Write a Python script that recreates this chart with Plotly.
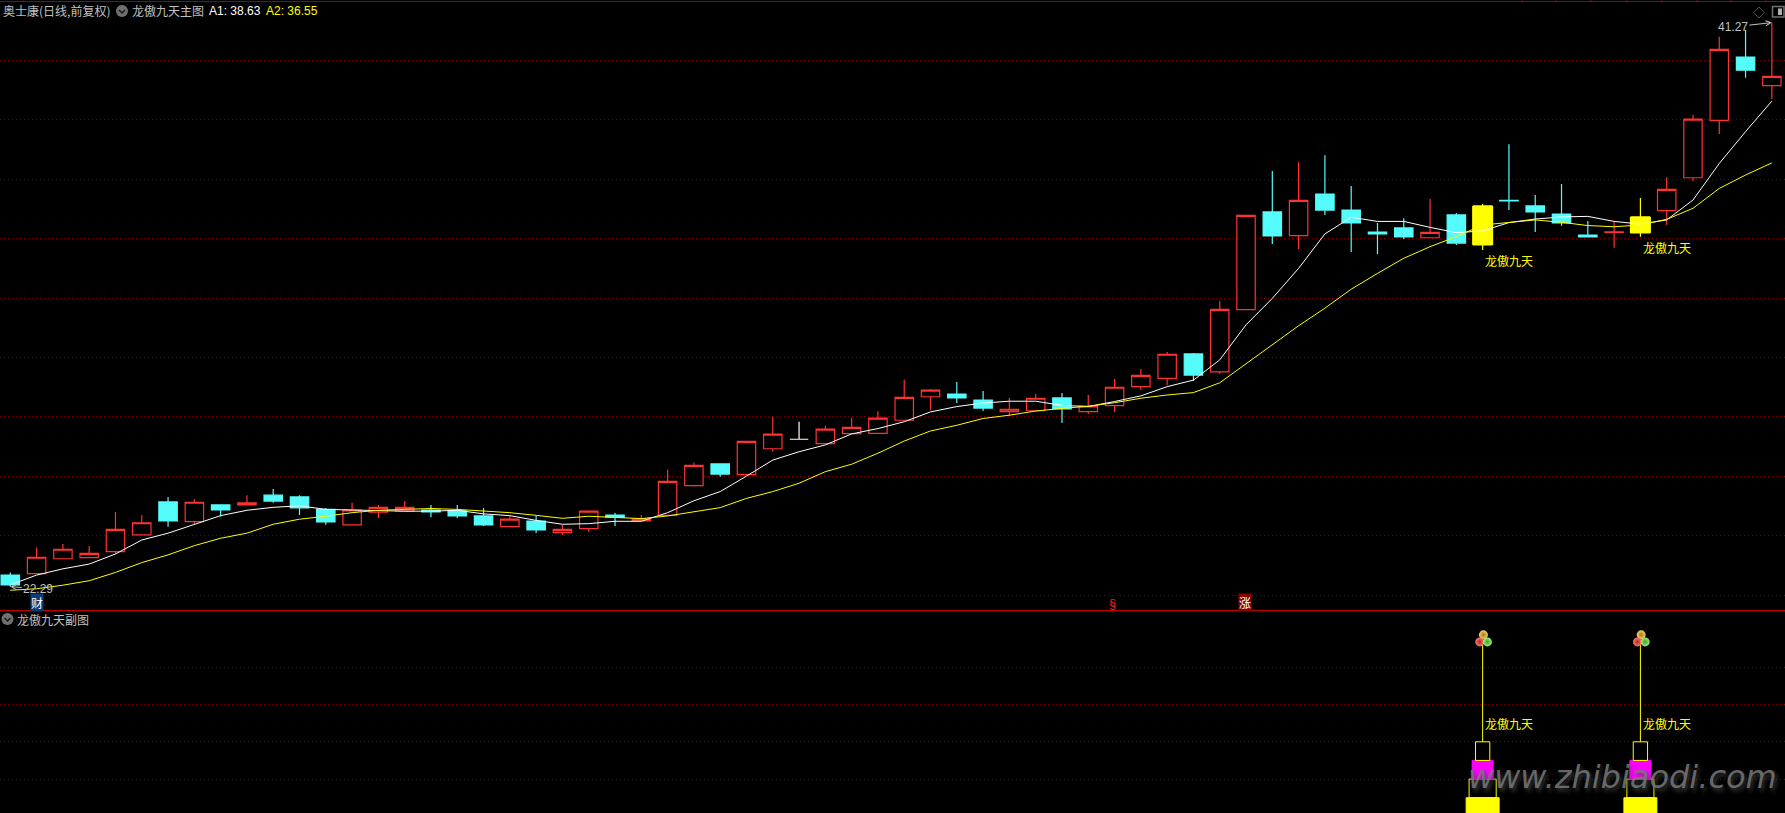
import plotly.graph_objects as go

W, H = 1785, 813
days = list(range(68))
opens = [22.68,22.73,23.23,23.27,23.47,24.03,25.14,24.48,25.04,25.04,25.37,25.31,24.89,24.37,24.80,24.83,24.87,24.84,24.67,24.31,24.50,24.11,24.24,24.70,24.50,24.69,25.69,26.42,26.06,26.93,27.25,27.10,27.44,27.45,27.89,28.68,28.77,28.57,28.18,28.21,28.64,28.18,28.38,29.02,29.30,30.12,29.52,31.61,34.90,34.10,35.50,34.96,34.22,34.36,34.03,34.80,33.79,35.29,35.10,34.83,34.12,34.21,34.19,34.94,36.05,37.98,40.11,39.15]
closes = [22.35,23.28,23.55,23.41,24.22,24.44,24.50,25.13,24.87,25.11,25.17,24.94,24.47,24.87,24.96,24.96,24.81,24.67,24.37,24.56,24.20,24.22,24.83,24.63,24.57,25.83,26.37,26.08,27.18,27.42,27.25,27.59,27.65,27.96,28.66,28.90,28.64,28.30,28.26,28.63,28.27,28.37,29.00,29.40,30.11,29.41,31.62,34.78,34.09,35.29,34.96,34.53,34.16,34.06,34.21,33.85,35.10,35.27,34.90,34.53,34.06,34.23,34.73,35.66,38.02,40.37,39.67,39.46]
highs = [22.77,23.61,23.73,23.66,24.80,24.69,25.31,25.23,25.06,25.37,25.58,25.37,24.94,25.11,25.04,25.17,25.04,25.04,24.94,24.67,24.67,24.37,24.83,24.77,24.70,26.22,26.47,26.42,27.18,28.00,27.84,27.70,27.97,28.19,29.24,28.94,29.18,28.87,28.64,28.77,28.81,28.74,29.28,29.61,30.19,30.15,31.90,34.78,36.28,36.58,36.81,35.77,34.53,34.69,35.33,34.86,35.17,37.18,35.47,35.84,34.59,34.56,35.37,36.07,38.16,40.79,41.02,41.27]
lows = [22.29,22.73,23.23,23.27,23.39,24.03,24.31,24.40,24.65,25.04,25.11,24.70,24.37,24.37,24.60,24.83,24.63,24.60,24.33,24.31,24.10,24.03,24.13,24.33,24.50,24.67,25.66,25.99,26.06,26.83,27.25,27.10,27.44,27.45,27.89,28.23,28.47,28.20,28.03,28.21,27.80,28.10,28.17,28.91,29.07,29.21,29.45,31.61,33.82,33.65,34.80,33.55,33.48,33.99,34.03,33.79,33.62,34.96,34.22,34.43,34.06,33.69,34.06,34.46,35.94,37.52,39.41,38.70]
a1 = [22.35,22.68,22.89,23.05,23.39,23.86,24.09,24.39,24.68,24.86,24.96,25.01,24.89,24.87,24.84,24.83,24.83,24.86,24.74,24.68,24.52,24.39,24.41,24.49,24.49,24.78,25.18,25.49,26.01,26.55,26.83,27.06,27.43,27.61,27.84,28.17,28.35,28.47,28.53,28.53,28.39,28.35,28.52,28.71,29.02,29.24,29.92,31.10,31.99,33.00,34.16,34.72,34.58,34.58,34.38,34.20,34.26,34.54,34.66,34.73,34.75,34.58,34.49,34.63,35.30,36.53,37.60,38.63]
a2 = [22.17,22.22,22.34,22.49,22.77,23.10,23.36,23.67,23.92,24.09,24.39,24.56,24.66,24.78,24.86,24.89,24.92,24.89,24.83,24.78,24.69,24.59,24.66,24.62,24.58,24.67,24.81,24.95,25.26,25.49,25.77,26.16,26.41,26.78,27.19,27.53,27.72,27.95,28.06,28.20,28.29,28.36,28.48,28.63,28.74,28.82,29.15,29.80,30.42,31.07,31.66,32.30,32.83,33.34,33.73,34.07,34.46,34.55,34.63,34.55,34.44,34.40,34.46,34.65,35.02,35.69,36.14,36.55]
white_days = [30]
signal_days = [56, 62]
price_grid = [22,24,26,28,30,32,34,36,38,40]
sub_grid = [1,2,3,4]
price_range = [21.495, 42.03]
sub_range = [0.09, 5.51]
x_range = [-0.392, 67.5]
stem_top = 4.6
ball_y = [4.87, 4.68, 4.68]
ball_offset = [0.03, -0.11, 0.18]
ball_colors = [("#f0d070", "#b07a10"), ("#f08070", "#c02020"), ("#a0f080", "#40a020")]
label = "龙傲九天"

RED, CYAN, YEL, MAG, GREY = "#ff3232", "#54fcfc", "#ffff00", "#ff00ff", "#c0c0c0"
CJK = "Noto Sans CJK SC"
LAT = "Liberation Sans"

def px(x): return x / W
def py(y): return 1 - y / H

fig = go.Figure()

def candles(idx, up, down, fill_up=None):
    fig.add_trace(go.Candlestick(
        x=[days[i] for i in idx], open=[opens[i] for i in idx], high=[highs[i] for i in idx],
        low=[lows[i] for i in idx], close=[closes[i] for i in idx],
        increasing=dict(line=dict(color=up, width=1.2), fillcolor=fill_up or up),
        decreasing=dict(line=dict(color=down, width=1.2), fillcolor=down),
        whiskerwidth=0, showlegend=False, hoverinfo="skip"))

normal = [i for i in days if i not in white_days and i not in signal_days]
candles(normal, RED, CYAN, "#000000")
candles(white_days, "#ffffff", "#ffffff", "#ffffff")
candles(signal_days, YEL, YEL, YEL)

# wide signal bodies in the price panel
fig.add_trace(go.Bar(x=signal_days,
    y=[abs(opens[i]-closes[i]) for i in signal_days],
    base=[min(opens[i], closes[i]) for i in signal_days],
    width=0.8, marker=dict(color=YEL, line=dict(width=0)), showlegend=False, hoverinfo="skip"))

fig.add_trace(go.Scatter(x=days, y=a1, mode="lines", line=dict(color="#ffffff", width=1), showlegend=False, hoverinfo="skip"))
fig.add_trace(go.Scatter(x=days, y=a2, mode="lines", line=dict(color=YEL, width=1), showlegend=False, hoverinfo="skip"))

# sub panel stacks
stack = [  # base, height, width, fill, line
    (0.0, 0.5, 1.255, YEL, YEL),
    (0.5, 0.5, 1.03, "rgba(0,0,0,0)", YEL),
    (1.0, 0.5, 0.80, MAG, MAG),
    (1.5, 0.5, 0.544, "rgba(0,0,0,0)", YEL),
]
for b, h, w, fill, line_c in stack:
    fig.add_trace(go.Bar(x=signal_days, y=[h]*2, base=[b]*2, width=w, yaxis="y2",
        marker=dict(color=fill, line=dict(color=line_c, width=1)), showlegend=False, hoverinfo="skip"))
sx, sy = [], []
for d in signal_days:
    sx += [d, d, None]
    sy += [2, stem_top, None]
fig.add_trace(go.Scatter(x=sx, y=sy, mode="lines", yaxis="y2", line=dict(color=YEL, width=1), showlegend=False, hoverinfo="skip"))
for o, by, (c0, c1) in zip(ball_offset, ball_y, ball_colors):
    fig.add_trace(go.Scatter(x=[d + o for d in signal_days], y=[by]*2, mode="markers", yaxis="y2",
        marker=dict(size=9, color=c0, gradient=dict(type="radial", color=c1), line=dict(width=0)),
        showlegend=False, hoverinfo="skip"))

anns = []
def text(x, y, s, color=GREY, size=12, font=CJK, anchor="left", **kw):
    anns.append(dict(x=px(x), y=py(y), xref="paper", yref="paper", text=s, showarrow=False,
                     xanchor=anchor, yanchor="middle", font=dict(color=color, size=size, family=font), **kw))

text(1, 10.5, "奥士康(日线,前复权)")
text(130, 10.5, "龙傲九天主图")
text(207, 10.5, "A1: 38.63", color="#ffffff", font=LAT)
text(264, 10.5, "A2: 36.55", color=YEL, font=LAT)
text(15, 619, "龙傲九天副图")
text(1483, 260, label, color=YEL)
text(1641, 248, label, color=YEL)
text(1483, 723.7, label, color=YEL)
text(1641, 723.7, label, color=YEL)
text(36.5, 602.5, "财", color="#ffffff", anchor="center", bgcolor="#0a3c78", borderpad=0)
text(1244.5, 602.5, "涨", color="#ffffff", anchor="center", bgcolor="#8c0000", borderpad=0)
text(1112.7, 603.5, "§", color="#ff2020", size=13, font=LAT, anchor="center")

anns.append(dict(x=67, y=41.27, xref="x", yref="y", text="41.27", ax=-39, ay=4.4, axref="pixel", ayref="pixel",
                 showarrow=True, arrowhead=5, arrowsize=1, arrowwidth=1, arrowcolor=GREY,
                 font=dict(color=GREY, size=12, family=LAT)))
anns.append(dict(x=0, y=22.29, xref="x", yref="y", text="22.29", ax=28, ay=2, axref="pixel", ayref="pixel",
                 showarrow=True, arrowhead=5, arrowsize=1, arrowwidth=1, arrowcolor=GREY,
                 font=dict(color=GREY, size=12, family=LAT)))
anns.append(dict(x=px(1622), y=py(777), xref="paper", yref="paper", text="www.zhibiaodi.com", showarrow=False,
                 xanchor="center", yanchor="middle",
                 font=dict(color="rgba(120,120,120,0.85)", size=32, family="DejaVu Sans", style="italic",
                           shadow="2px 3px 4px #444444")))

shapes = []
def line(x0, y0, x1, y1, c, w=1):
    shapes.append(dict(type="line", xref="paper", yref="paper", x0=px(x0), y0=py(y0), x1=px(x1), y1=py(y1),
                       line=dict(color=c, width=w), layer="above"))
line(0, 610.5, W, 610.5, "#c00000")
line(0, 1.5, W, 1.5, "#a00000")
for tx in [23, 1522, 1556, 1591, 1627, 1662, 1697, 1731, 1766]:
    line(tx, 0, tx, 1, "#a00000")
for cx, cy in [(122, 11), (7.5, 619)]:
    shapes.append(dict(type="circle", xref="paper", yref="paper", x0=px(cx-6), x1=px(cx+6), y0=py(cy+6), y1=py(cy-6),
                       fillcolor="#707070", line=dict(width=0), layer="above"))
    shapes.append(dict(type="path", xref="paper", yref="paper", layer="above",
                       path=f"M {px(cx-3)} {py(cy-1)} L {px(cx)} {py(cy+2)} L {px(cx+3)} {py(cy-1)}",
                       line=dict(color="#1a1a1a", width=1.5)))
shapes.append(dict(type="path", xref="paper", yref="paper", layer="above",
                   path=f"M {px(1759)} {py(7)} L {px(1764.5)} {py(12.5)} L {px(1759)} {py(18)} L {px(1753.5)} {py(12.5)} Z",
                   line=dict(color="#505050", width=1)))
shapes.append(dict(type="rect", xref="paper", yref="paper", layer="above", x0=px(1772.5), x1=px(1784), y0=py(17), y1=py(6.5),
                   line=dict(color="#707070", width=1.5)))
shapes.append(dict(type="rect", xref="paper", yref="paper", layer="above", x0=px(1778), x1=px(1782), y0=py(15), y1=py(8.5),
                   fillcolor="#b0b0b0", line=dict(width=0)))

grid = dict(showgrid=True, gridcolor="#800000", griddash="1px,3px", gridwidth=1, zeroline=False,
            showticklabels=False, ticks="", showline=False, fixedrange=True)
fig.update_layout(
    width=W, height=H, autosize=False, margin=dict(l=0, r=0, t=0, b=0, pad=0),
    paper_bgcolor="#000000", plot_bgcolor="#000000", barmode="overlay", showlegend=False,
    boxgap=0,
    font=dict(family=CJK, color=GREY),
    xaxis=dict(range=x_range, showgrid=False, zeroline=False, showticklabels=False, ticks="", showline=False,
               rangeslider=dict(visible=False), fixedrange=True),
    yaxis=dict(range=price_range, domain=[py(610.3), 1], tickvals=price_grid, **grid),
    yaxis2=dict(range=sub_range, domain=[0, py(611)], tickvals=sub_grid, **grid),
    annotations=anns, shapes=shapes)

fig.write_html("out.html", config=dict(displayModeBar=False),
               post_script="document.body.style.margin='0';document.body.style.background='#000';document.body.style.overflow='hidden';")
